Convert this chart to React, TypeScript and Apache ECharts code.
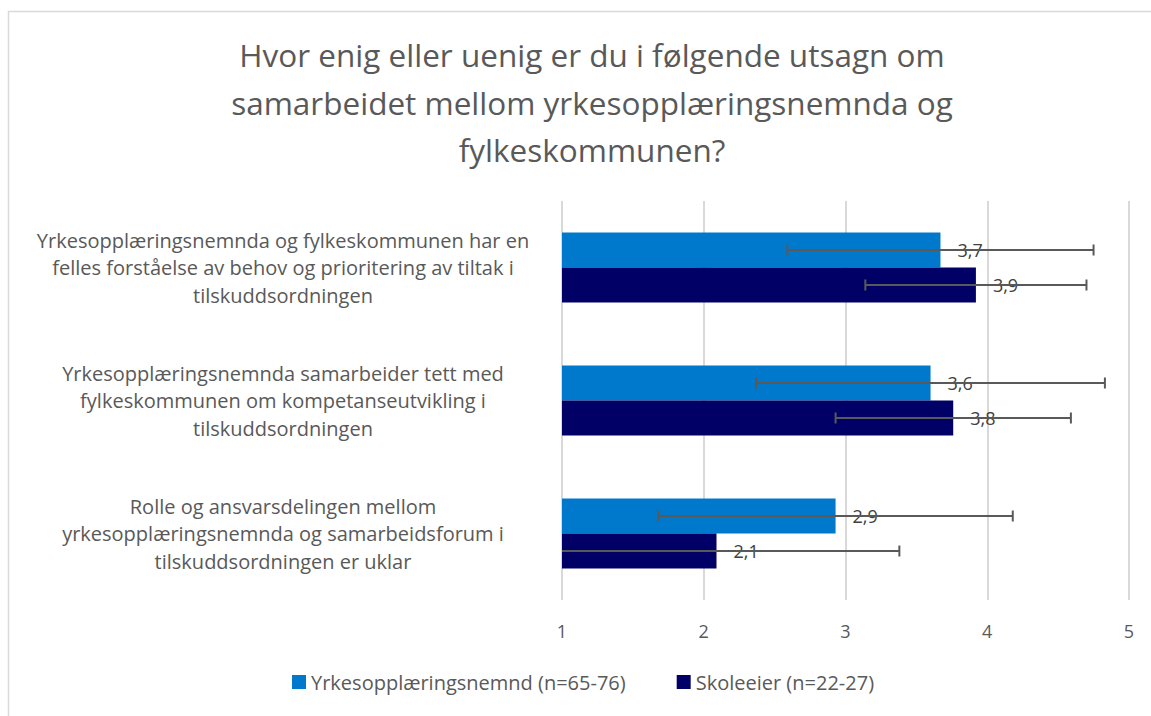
import React, { useEffect, useRef } from "react";
import * as echarts from "echarts";

const TITLE_LINES = [
  "Hvor enig eller uenig er du i følgende utsagn om",
  "samarbeidet mellom yrkesopplæringsnemnda og",
  "fylkeskommunen?",
];

const CATEGORIES = [
  "Yrkesopplæringsnemnda og fylkeskommunen har en\nfelles forståelse av behov og prioritering av tiltak i\ntilskuddsordningen",
  "Yrkesopplæringsnemnda samarbeider tett med\nfylkeskommunen om kompetanseutvikling i\ntilskuddsordningen",
  "Rolle og ansvarsdelingen mellom\nyrkesopplæringsnemnda og samarbeidsforum i\ntilskuddsordningen er uklar",
];

const SERIES_NAMES = ["Yrkesopplæringsnemnd (n=65-76)", "Skoleeier (n=22-27)"];
const NEMND_VALUES = [3.67, 3.6, 2.93];
const SKOLEEIER_VALUES = [3.92, 3.76, 2.09];
const NEMND_ERRORS = [1.08, 1.23, 1.25];
const SKOLEEIER_ERRORS = [0.78, 0.83, 1.29];
const X_TICKS = [1, 2, 3, 4, 5];

const COLORS = ["#0078CC", "#000066"];
const FONT = "'Open Sans', Lato, sans-serif";
const TEXT = "#595959";
const BAR_W = 35;
const X_MIN = X_TICKS[0];
const X_MAX = X_TICKS[X_TICKS.length - 1];

function errorData(values: number[], errs: number[]) {
  return values.map((v, i) => [i, v - errs[i], v + errs[i]]);
}

function makeErrorRender(side: number) {
  return (params: any, api: any) => {
    const cat = api.value(0);
    const rawLo = api.value(1);
    const lo = Math.max(rawLo, X_MIN);
    const hi = Math.min(api.value(2), X_MAX);
    const p1 = api.coord([lo, cat]);
    const p2 = api.coord([hi, cat]);
    const y = p1[1] + (side * BAR_W) / 2;
    const style = { stroke: "#595959", lineWidth: 2 };
    const children: any[] = [
      { type: "line", shape: { x1: p1[0], y1: y, x2: p2[0], y2: y }, style },
      { type: "line", shape: { x1: p2[0], y1: y - 5.5, x2: p2[0], y2: y + 5.5 }, style },
    ];
    if (rawLo >= X_MIN) {
      children.push({ type: "line", shape: { x1: p1[0], y1: y - 5.5, x2: p1[0], y2: y + 5.5 }, style });
    }
    return { type: "group", children };
  };
}

const fmt = (v: number) => v.toFixed(1).replace(".", ",");

export default function App() {
  const ref = useRef<HTMLDivElement>(null);
  useEffect(() => {
    if (!ref.current) return;
    const chart = echarts.init(ref.current, undefined, { renderer: "svg" });
    const labelCfg = {
      show: true,
      position: "right",
      distance: 17,
      fontFamily: FONT,
      fontSize: 18,
      color: "#404040",
      formatter: (p: any) => fmt(p.value),
    };
    chart.setOption({
      animation: false,
      backgroundColor: "#ffffff",
      title: {
        text: TITLE_LINES.join("\n"),
        left: 587,
        top: 26,
        textAlign: "center",
        textStyle: {
          fontFamily: FONT,
          fontSize: 31.5,
          fontWeight: "normal",
          color: TEXT,
          lineHeight: 47.5,
        },
      },
      graphic: [
        {
          type: "rect",
          shape: { x: 8.5, y: 11.5, width: 1200, height: 800 },
          style: { fill: "none", stroke: "#d9d9d9", lineWidth: 1.5 },
          silent: true,
        },
      ],
      legend: {
        bottom: 19,
        left: 287,
        icon: "rect",
        itemWidth: 14,
        itemHeight: 14,
        itemGap: 51,
        textStyle: { fontFamily: FONT, fontSize: 20, color: TEXT },
        data: SERIES_NAMES,
      },
      grid: { left: 562, right: 22, top: 201, bottom: 116 },
      xAxis: {
        type: "value",
        min: X_MIN,
        max: X_MAX,
        interval: 1,
        axisLine: { show: false },
        axisTick: { show: false },
        splitLine: { lineStyle: { color: "#d9d9d9", width: 2 } },
        axisLabel: { fontFamily: FONT, fontSize: 18, color: TEXT, margin: 22 },
      },
      yAxis: {
        type: "category",
        inverse: true,
        data: CATEGORIES,
        axisLine: { show: false },
        axisTick: { show: false },
        axisLabel: {
          fontFamily: FONT,
          fontSize: 20,
          color: TEXT,
          align: "center",
          margin: 279,
          lineHeight: 27.5,
        },
      },
      series: [
        {
          name: SERIES_NAMES[0],
          type: "bar",
          data: NEMND_VALUES,
          barWidth: BAR_W,
          barGap: "0%",
          itemStyle: { color: COLORS[0] },
          label: labelCfg,
        },
        {
          name: SERIES_NAMES[1],
          type: "bar",
          data: SKOLEEIER_VALUES,
          barWidth: BAR_W,
          barGap: "0%",
          itemStyle: { color: COLORS[1] },
          label: labelCfg,
        },
        {
          type: "custom",
          renderItem: makeErrorRender(-1),
          data: errorData(NEMND_VALUES, NEMND_ERRORS),
          encode: { x: [1, 2], y: 0 },
          z: 5,
          silent: true,
        },
        {
          type: "custom",
          renderItem: makeErrorRender(1),
          data: errorData(SKOLEEIER_VALUES, SKOLEEIER_ERRORS),
          encode: { x: [1, 2], y: 0 },
          z: 5,
          silent: true,
        },
      ],
    });
    return () => chart.dispose();
  }, []);
  return (
    <div
      ref={ref}
      style={{ position: "absolute", left: 0, top: 0, width: 1151, height: 716 }}
    />
  );
}
